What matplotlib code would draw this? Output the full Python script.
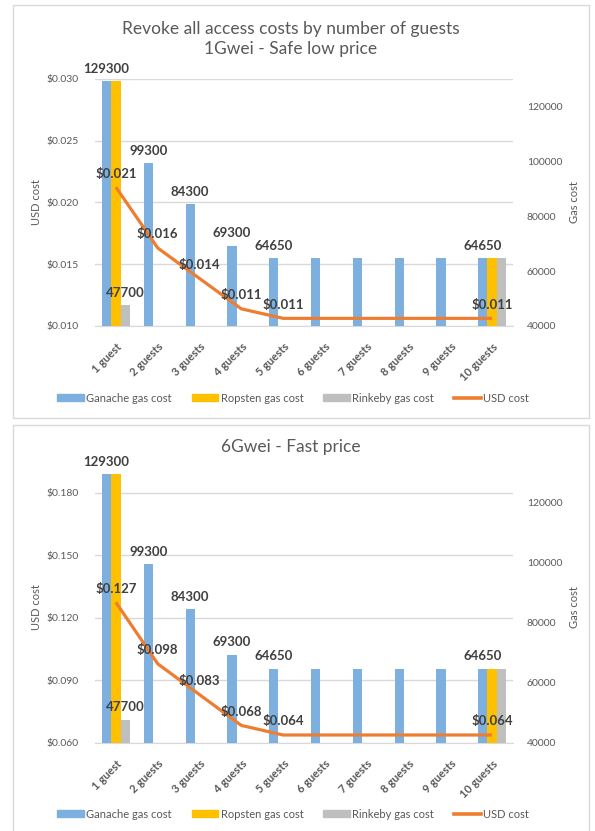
import numpy as np
import matplotlib
matplotlib.use("Agg")
import matplotlib.pyplot as plt
from matplotlib.patches import Rectangle, Patch
from matplotlib.lines import Line2D

plt.rcParams['font.family'] = ['Lato', 'DejaVu Sans']

# ---- data ----
guests = ["1 guest", "2 guests", "3 guests", "4 guests", "5 guests",
          "6 guests", "7 guests", "8 guests", "9 guests", "10 guests"]
nan = np.nan
ganache_gas = [129300, 99300, 84300, 69300, 64650, 64650, 64650, 64650, 64650, 64650]
ropsten_gas = [129300, nan, nan, nan, nan, nan, nan, nan, nan, 64650]
rinkeby_gas = [47700, nan, nan, nan, nan, nan, nan, nan, nan, 64650]
usd_1gwei = [0.02124, 0.01632, 0.01385, 0.01139, 0.01062,
             0.01062, 0.01062, 0.01062, 0.01062, 0.01062]
usd_6gwei = [0.1274, 0.0979, 0.0831, 0.0683, 0.0637,
             0.0637, 0.0637, 0.0637, 0.0637, 0.0637]
labelled = [0, 1, 2, 3, 4, 9]

C_BLUE = "#7DB0DE"
C_YELLOW = "#FFC000"
C_GRAY = "#BFBFBF"
C_ORANGE = "#ED7D31"
C_TEXT = "#595959"
C_LABEL = "#404040"
C_GRID = "#D9D9D9"

W, H = 595, 831
fig = plt.figure(figsize=(W / 100, H / 100), dpi=100)


def px_rect(left, top, right, bottom):
    return [left / W, 1 - bottom / H, (right - left) / W, (bottom - top) / H]


def draw_chart(top, bottom, usd, usd_lim, usd_ticks, title, title_y,
               legend_y, panel):
    # panel frame
    fig.add_artist(Rectangle((panel[0] / W, 1 - panel[3] / H),
                             (panel[2] - panel[0]) / W,
                             (panel[3] - panel[1]) / H,
                             transform=fig.transFigure, fill=False,
                             edgecolor=C_GRID, linewidth=1.0))

    ax = fig.add_axes(px_rect(95, top, 513, bottom))
    ax_gas = ax.twinx()
    ax_line = ax.twinx()

    x = np.arange(len(guests))
    bw = 0.222

    # left axis: USD with gridlines
    ax.set_xlim(-0.5, len(guests) - 0.5)
    ax.set_ylim(*usd_lim)
    ax.set_yticks(usd_ticks)
    ax.set_yticklabels([f"${v:.3f}" for v in usd_ticks])
    ax.yaxis.grid(True, color=C_GRID, linewidth=1.0)
    ax.set_axisbelow(True)
    ax.tick_params(axis='y', length=0, pad=12, labelsize=7.5, labelcolor=C_TEXT)
    ax.set_xticks(x)
    ax.set_xticklabels(guests, rotation=45, ha='right', va='top',
                       rotation_mode='anchor', fontsize=8, color=C_TEXT,
                       fontweight='bold')
    ax.tick_params(axis='x', length=0, pad=11)
    for s in ['top', 'left', 'right']:
        ax.spines[s].set_visible(False)
    ax.spines['bottom'].set_color(C_GRID)

    # right axis: gas bars
    ax_gas.bar(x - bw, ganache_gas, bw, color=C_BLUE, zorder=2)
    ax_gas.bar(x, ropsten_gas, bw, color=C_YELLOW, zorder=2)
    ax_gas.bar(x + bw, rinkeby_gas, bw, color=C_GRAY, zorder=2)
    ax_gas.set_ylim(40000, 130000)
    ax_gas.set_yticks([40000, 60000, 80000, 100000, 120000])
    ax_gas.tick_params(axis='y', length=0, pad=10, labelsize=7.5,
                       labelcolor=C_TEXT)
    for s in ax_gas.spines.values():
        s.set_visible(False)
    for i in labelled:
        ax_gas.annotate(f"{ganache_gas[i]}", (x[i] - bw, ganache_gas[i]),
                        xytext=(0, 4.5), textcoords='offset points',
                        ha='center', va='bottom', fontsize=9.5,
                        fontweight='bold', color=C_LABEL)
    ax_gas.annotate(f"{rinkeby_gas[0]}", (x[0] + bw, rinkeby_gas[0]),
                    xytext=(0, 4.5), textcoords='offset points',
                    ha='center', va='bottom', fontsize=9.5,
                    fontweight='bold', color=C_LABEL)

    # USD line on top
    ax_line.set_ylim(*usd_lim)
    ax_line.plot(x, usd, color=C_ORANGE, linewidth=2.3,
                 solid_capstyle='butt', zorder=3)
    for i in labelled:
        ax_line.annotate(f"${usd[i]:.3f}", (x[i], usd[i]),
                         xytext=(0, 5.5), textcoords='offset points',
                         ha='center', va='bottom', fontsize=9.5,
                         fontweight='bold', color=C_LABEL)
    ax_line.set_axis_off()

    # axis titles
    cy = 1 - (top + bottom) / 2 / H
    fig.text(37 / W, cy, "USD cost", rotation=90, ha='center', va='center',
             fontsize=8, color=C_TEXT)
    fig.text(575 / W, cy, "Gas cost", rotation=90, ha='center', va='center',
             fontsize=8, color=C_TEXT)

    fig.text(291 / W, 1 - title_y / H, title, ha='center', va='center',
             fontsize=12.5, color=C_TEXT, linespacing=1.25)

    handles = [Patch(color=C_BLUE), Patch(color=C_YELLOW), Patch(color=C_GRAY),
               Line2D([], [], color=C_ORANGE, linewidth=2.6)]
    names = ["Ganache gas cost", "Ropsten gas cost", "Rinkeby gas cost",
             "USD cost"]
    fig.legend(handles, names, loc='center', ncol=4,
               bbox_to_anchor=(293 / W, 1 - legend_y / H), frameon=False,
               fontsize=8, labelcolor=C_TEXT, handlelength=2.4,
               handleheight=0.6, handletextpad=0.2, columnspacing=1.8)


draw_chart(79, 326, usd_1gwei, (0.010, 0.030),
           [0.010, 0.015, 0.020, 0.025, 0.030],
           "Revoke all access costs by number of guests\n1Gwei - Safe low price",
           39, 398, (13, 5, 589, 418))

draw_chart(472, 742.7, usd_6gwei, (0.060, 0.190),
           [0.060, 0.090, 0.120, 0.150, 0.180],
           "6Gwei - Fast price", 447, 814, (13, 425, 589, 835))

fig.savefig("out.png", dpi=100)
